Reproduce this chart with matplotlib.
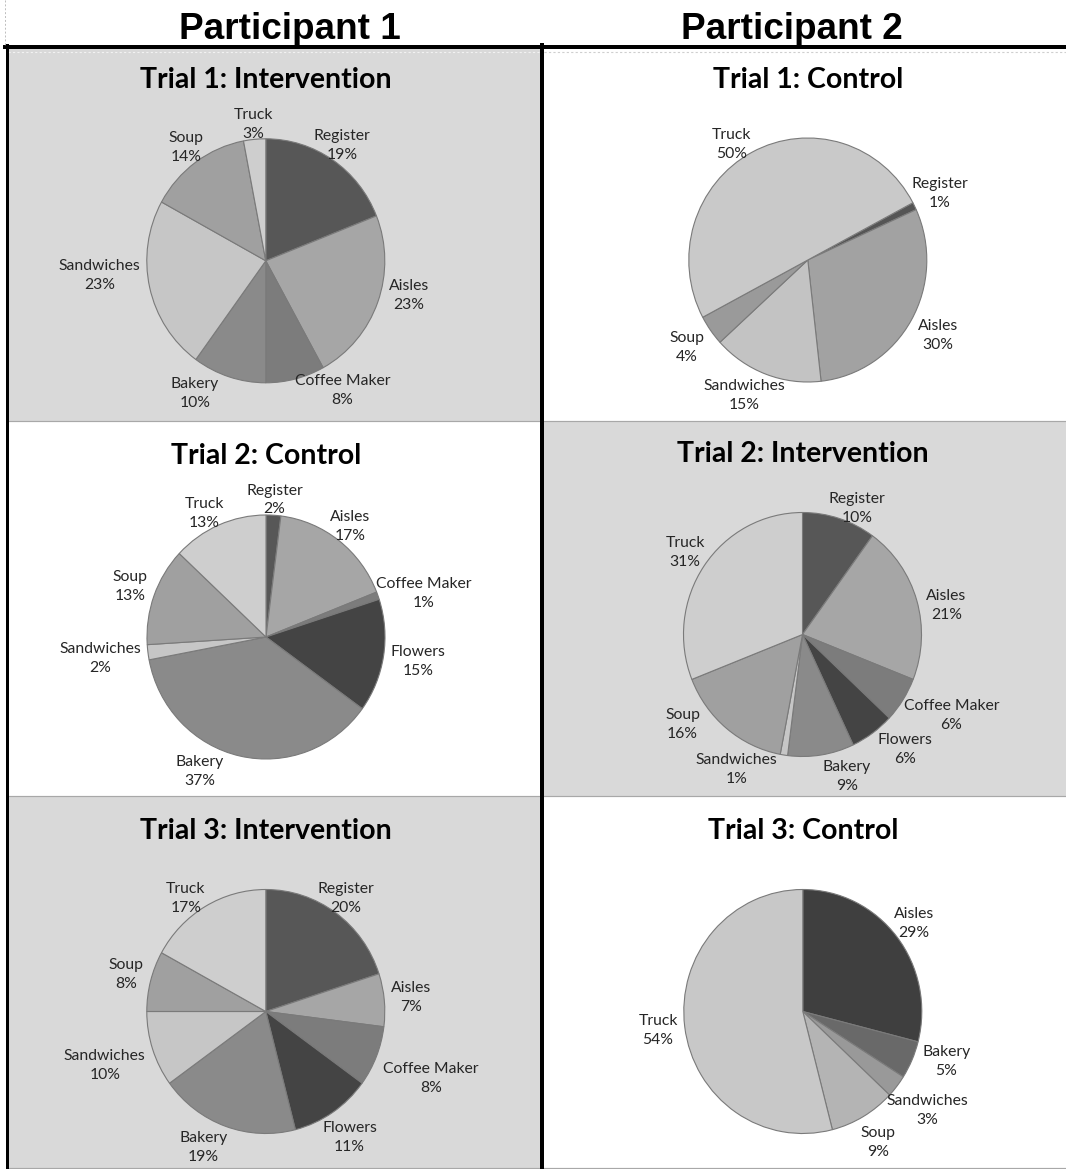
import matplotlib
matplotlib.use("Agg")
import matplotlib.pyplot as plt
import numpy as np
from matplotlib.patches import Rectangle
from matplotlib.lines import Line2D

W, H = 1066, 1169

participants = ["Participant 1", "Participant 2"]

# participant 1
p1_t1_title = "Trial 1: Intervention"
p1_t1_names = ["Register", "Aisles", "Coffee Maker", "Bakery", "Sandwiches", "Soup", "Truck"]
p1_t1_vals = [19, 23, 8, 10, 23, 14, 3]

p1_t2_title = "Trial 2: Control"
p1_t2_names = ["Register", "Aisles", "Coffee Maker", "Flowers", "Bakery", "Sandwiches", "Soup", "Truck"]
p1_t2_vals = [2, 17, 1, 15, 37, 2, 13, 13]

p1_t3_title = "Trial 3: Intervention"
p1_t3_names = ["Register", "Aisles", "Coffee Maker", "Flowers", "Bakery", "Sandwiches", "Soup", "Truck"]
p1_t3_vals = [20, 7, 8, 11, 19, 10, 8, 17]

# participant 2
p2_t1_title = "Trial 1: Control"
p2_t1_names = ["Register", "Aisles", "Sandwiches", "Soup", "Truck"]
p2_t1_vals = [1, 30, 15, 4, 50]

p2_t2_title = "Trial 2: Intervention"
p2_t2_names = ["Register", "Aisles", "Coffee Maker", "Flowers", "Bakery", "Sandwiches", "Soup", "Truck"]
p2_t2_vals = [10, 21, 6, 6, 9, 1, 16, 31]

p2_t3_title = "Trial 3: Control"
p2_t3_names = ["Aisles", "Bakery", "Sandwiches", "Soup", "Truck"]
p2_t3_vals = [29, 5, 3, 9, 54]

# grey shades per slice
shade = {"Register": "#575757", "Aisles": "#a6a6a6", "Coffee Maker": "#7c7c7c",
         "Flowers": "#444444", "Bakery": "#8a8a8a", "Sandwiches": "#c6c6c6",
         "Soup": "#a0a0a0", "Truck": "#cecece"}
p2_t1_colors = ["#555555", "#a2a2a2", "#c3c3c3", "#9a9a9a", "#c9c9c9"]
p2_t3_colors = ["#3f3f3f", "#696969", "#999999", "#b4b4b4", "#c8c8c8"]

rows = [(49, 421), (421, 796), (796, 1169)]
cols = [(8, 540), (544, 1066)]
RX, RY = 119.0, 122.0

# label directions (deg) where excel's "best fit" moved a label off the slice middle
label_dir = {
    (0, 0): {"Aisles": -13.5, "Coffee Maker": -58.8, "Bakery": -118.8, "Sandwiches": 185},
    (0, 1): {"Truck": 124, "Sandwiches": -115.6},
    (1, 0): {"Coffee Maker": 15, "Bakery": -116.8, "Truck": 117},
    (1, 1): {"Register": 66, "Aisles": 11, "Coffee Maker": -27.8, "Flowers": -47.6,
             "Bakery": -72.2, "Sandwiches": -116.7, "Soup": -143.9},
    (2, 0): {"Bakery": -115.1, "Truck": 126},
    (2, 1): {"Bakery": -18.7},
}

panels = [
    # row, col, title, names, vals, colors, start, centre(px), grey
    (0, 0, p1_t1_title, p1_t1_names, p1_t1_vals, [shade[n] for n in p1_t1_names], 90, (265.8, 260.8), True),
    (0, 1, p2_t1_title, p2_t1_names, p2_t1_vals, p2_t1_colors, 28, (807.8, 260.0), False),
    (1, 0, p1_t2_title, p1_t2_names, p1_t2_vals, [shade[n] for n in p1_t2_names], 90, (266.0, 637.0), False),
    (1, 1, p2_t2_title, p2_t2_names, p2_t2_vals, [shade[n] for n in p2_t2_names], 90, (802.5, 634.5), True),
    (2, 0, p1_t3_title, p1_t3_names, p1_t3_vals, [shade[n] for n in p1_t3_names], 90, (265.8, 1011.5), True),
    (2, 1, p2_t3_title, p2_t3_names, p2_t3_vals, p2_t3_colors, 90, (802.8, 1011.5), False),
]

fig = plt.figure(figsize=(W / 100, H / 100), dpi=100)
fig.patch.set_facecolor("white")


def fx(x):
    return x / W


def fy(y):
    return 1 - y / H


label_font = dict(family="Lato", fontsize=11.3, color="#262626", linespacing=1.45)
renderer = fig.canvas.get_renderer()

for r, c, title, names, vals, colors, start, (cx, cy), grey in panels:
    x0, x1 = cols[c]
    y0, y1 = rows[r]
    if grey:
        fig.add_artist(Rectangle((fx(x0), fy(y1)), fx(x1 - x0), (y1 - y0) / H,
                                 transform=fig.transFigure, facecolor="#d9d9d9",
                                 edgecolor="none", zorder=-2))
    ax = fig.add_axes([fx(x0), fy(y1), (x1 - x0) / W, (y1 - y0) / H])
    wedges, _ = ax.pie(vals, colors=colors, startangle=start, counterclock=False,
                       radius=1, wedgeprops=dict(edgecolor="#7a7a7a", linewidth=0.8))
    ax.set_aspect("auto")
    ax.set_xlim((x0 - cx) / RX, (x1 - cx) / RX)
    ax.set_ylim((cy - y1) / RY, (cy - y0) / RY)
    ax.axis("off")

    fig.text(fx(cx), fy(cy - 172.5), title, ha="center", va="baseline",
             family="Lato", fontweight="bold", fontsize=20.5, color="black")

    # labels outside the slices, pushed just clear of the rim
    dirs = label_dir.get((r, c), {})
    for w, n, v in zip(wedges, names, vals):
        t = ax.text(0, 0, f"{n}\n{v}%", ha="center", va="center",
                    multialignment="center", **label_font)
        bb = t.get_window_extent(renderer)
        th = np.deg2rad(dirs.get(n, (w.theta1 + w.theta2) / 2))
        ux, uy = np.cos(th), np.sin(th)
        hw = bb.width / 2 / RX + 0.02
        hh = bb.height / 2 / RY - 0.05
        if uy < 0:
            hh += 0.09  # labels under the pie sit a bit lower in the original
        dx = hw / abs(ux) if abs(ux) > 1e-6 else np.inf
        dy = hh / abs(uy) if abs(uy) > 1e-6 else np.inf
        d = 1.04 + min(dx, dy)
        t.set_position((d * ux, d * uy))

# header
for name, x in zip(participants, [290, 792]):
    fig.text(fx(x), fy(39), name, ha="center", va="baseline",
             family="Liberation Sans", fontweight="bold", fontsize=26.6)

# frame lines
lw_px = 72 / 100
fig.add_artist(Line2D([fx(5), fx(W)], [fy(47), fy(47)], color="black",
                      lw=4 * lw_px, transform=fig.transFigure, zorder=5))
fig.add_artist(Line2D([fx(542), fx(542)], [fy(45), fy(H)], color="black",
                      lw=4 * lw_px, transform=fig.transFigure, zorder=5))
fig.add_artist(Line2D([fx(6.5), fx(6.5)], [fy(45), fy(H)], color="black",
                      lw=3 * lw_px, transform=fig.transFigure, zorder=5))
fig.add_artist(Line2D([fx(5), fx(5)], [fy(0), fy(45)], color="#bdbdbd",
                      lw=0.7, ls=(0, (2, 2)), transform=fig.transFigure, zorder=5))
for y in [421, 796, 1167.5]:
    fig.add_artist(Line2D([fx(8), fx(W)], [fy(y), fy(y)], color="#a8a8a8",
                          lw=1.2 * lw_px, transform=fig.transFigure, zorder=4))
# dotted line along top of the panels
fig.add_artist(Line2D([fx(8), fx(540)], [fy(52), fy(52)], color="#f2f2f2",
                      lw=0.8, ls=(0, (2, 2)), transform=fig.transFigure, zorder=4))
fig.add_artist(Line2D([fx(544), fx(W)], [fy(52), fy(52)], color="#cfcfcf",
                      lw=0.8, ls=(0, (2, 2)), transform=fig.transFigure, zorder=4))

fig.savefig("out.png", dpi=100)
